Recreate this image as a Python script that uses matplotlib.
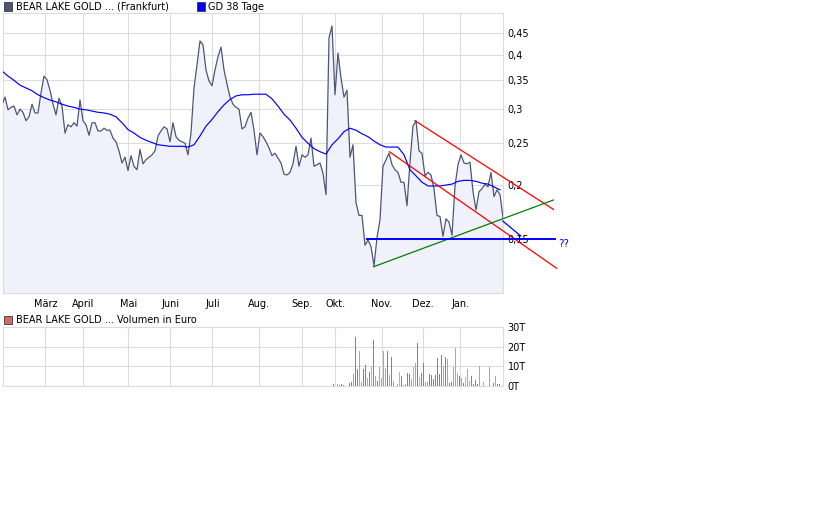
import numpy as np
import matplotlib

matplotlib.use("Agg")
import matplotlib.pyplot as plt
from matplotlib.patches import Rectangle

# x axis in trading days (one day = 2 px of the original chart)
month_labels = ["März", "April", "Mai", "Juni", "Juli", "Aug.", "Sep.", "Okt.", "Nov.", "Dez.", "Jan."]
month_days = [21.2, 40.2, 62.7, 83.7, 104.7, 128.2, 149.4, 166.2, 189.4, 209.9, 228.7]

price_ticks = [0.15, 0.2, 0.25, 0.3, 0.35, 0.4, 0.45]
price_tick_labels = ["0,15", "0,2", "0,25", "0,3", "0,35", "0,4", "0,45"]

# close prices (Frankfurt), one value every 1.5 trading days
price_start = -0.5
price_step = 1.5
price = [
    0.307, 0.320, 0.299, 0.303, 0.305, 0.291, 0.300, 0.295, 0.282, 0.288,
    0.308, 0.294, 0.294, 0.327, 0.358, 0.351, 0.332, 0.308, 0.291, 0.318,
    0.305, 0.264, 0.276, 0.273, 0.279, 0.274, 0.315, 0.282, 0.276, 0.261,
    0.279, 0.279, 0.267, 0.267, 0.271, 0.268, 0.268, 0.257, 0.252, 0.240,
    0.225, 0.232, 0.216, 0.234, 0.221, 0.217, 0.242, 0.224, 0.229, 0.232,
    0.235, 0.240, 0.260, 0.267, 0.273, 0.270, 0.252, 0.279, 0.259, 0.254,
    0.252, 0.250, 0.235, 0.264, 0.336, 0.380, 0.432, 0.423, 0.370, 0.349,
    0.340, 0.370, 0.397, 0.418, 0.370, 0.343, 0.320, 0.308, 0.303, 0.300,
    0.270, 0.273, 0.286, 0.295, 0.268, 0.235, 0.264, 0.259, 0.252, 0.244,
    0.234, 0.237, 0.231, 0.225, 0.212, 0.211, 0.214, 0.224, 0.246, 0.221,
    0.235, 0.232, 0.235, 0.257, 0.221, 0.223, 0.225, 0.213, 0.190, 0.439,
    0.468, 0.324, 0.405, 0.354, 0.320, 0.332, 0.232, 0.248, 0.182, 0.170,
    0.170, 0.145, 0.149, 0.144, 0.130, 0.151, 0.166, 0.221, 0.229, 0.237,
    0.223, 0.217, 0.214, 0.203, 0.203, 0.179, 0.226, 0.274, 0.282, 0.240,
    0.237, 0.210, 0.214, 0.211, 0.196, 0.170, 0.169, 0.152, 0.167, 0.164,
    0.153, 0.199, 0.223, 0.235, 0.225, 0.224, 0.226, 0.193, 0.175, 0.193,
    0.196, 0.201, 0.198, 0.214, 0.188, 0.195, 0.190, 0.168,
]

# GD 38 Tage, read at every second price sample
gd38 = [
    0.368, 0.358, 0.350, 0.341, 0.336, 0.331, 0.324, 0.319, 0.315, 0.312,
    0.308, 0.305, 0.303, 0.300, 0.299, 0.297, 0.295, 0.294, 0.292, 0.288,
    0.279, 0.269, 0.264, 0.258, 0.254, 0.251, 0.248, 0.247, 0.246, 0.246,
    0.246, 0.245, 0.248, 0.260, 0.274, 0.284, 0.296, 0.307, 0.316, 0.322,
    0.324, 0.324, 0.325, 0.325, 0.325, 0.317, 0.305, 0.292, 0.283, 0.271,
    0.258, 0.250, 0.243, 0.239, 0.236, 0.248, 0.256, 0.266, 0.271, 0.268,
    0.263, 0.259, 0.253, 0.248, 0.245, 0.245, 0.245, 0.235, 0.217, 0.210,
    0.203, 0.199, 0.199, 0.199, 0.200, 0.201, 0.204, 0.205, 0.205, 0.204,
    0.202, 0.201, 0.198, 0.195,
]

# volume in euro, consecutive trading days from vol_start
vol_start = 165
volume = [
    1000, 0, 850, 500, 1000, 500, 0, 0, 1500, 2000,
    5900, 24900, 8600, 17800, 2000, 8600, 10700, 4100, 7100, 10200,
    23400, 5100, 2500, 9700, 4100, 17800, 9200, 17800, 5600, 14700,
    2500, 0, 1000, 7100, 5100, 500, 1000, 6600, 6100, 3600,
    9700, 11700, 21900, 4600, 6600, 11700, 2000, 2000, 6100, 5600,
    3600, 5600, 14200, 6100, 15800, 10200, 14700, 13700, 1500, 2000,
    9700, 19300, 6600, 5100, 4100, 1500, 4600, 8600, 2500, 5100,
    1000, 3100, 1000, 10200, 0, 2000, 0, 0, 9700, 0,
    1500, 5100, 1000, 1000,
]
# r = down day, g = up day, n = unchanged
vol_trend = list(
    "rngrrrnnrr" "grrggrrgrn" "rgrggggrgr" "gngnrngrrg" "ngrnrrggrr"
    "rrrrrgrgrr" "gggrgrngnr" "rrrgngnngn" "rgrr"
)
vol_ticks = [0, 10000, 20000, 30000]
vol_tick_labels = ["0T", "10T", "20T", "30T"]

# hand-drawn trend lines: (day, price) end points
red_upper = ([206.0, 275.2], [0.282, 0.1756])
red_lower = ([193.2, 276.9], [0.2389, 0.1281])
green_support = ([185.2, 275.2], [0.1292, 0.1846])
blue_level = ([182.2, 276.0], [0.15, 0.15])
blue_proj = ([249.9, 258.9], [0.165, 0.1523])
qq_pos = (277.5, 0.146)

GRID = "#dcdcdc"
PRICE_COL = "#4d5677"
FILL_COL = "#f1f1fb"
VOL_COLS = {"r": "#dc5f5f", "g": "#62d862", "n": "#b4b4b4"}
FS = 7

W, H = 840, 525
fig = plt.figure(figsize=(W / 100, H / 100), dpi=100)
fig.patch.set_facecolor("white")


def px_axes(x0, y0, x1, y1):
    return fig.add_axes([x0 / W, 1 - y1 / H, (x1 - x0) / W, (y1 - y0) / H])


x_lim = (0, 250.15)

# --- price panel ---------------------------------------------------------
ax = px_axes(3, 13, 503.3, 293)
days = price_start + price_step * np.arange(len(price))
ax.set_yscale("log")
ax.set_ylim(0.1123, 0.5016)
ax.set_xlim(*x_lim)
ax.fill_between(days, price, 0.05, color=FILL_COL, lw=0, zorder=1)
ax.plot(days, price, color=PRICE_COL, lw=0.9, zorder=3)
ax.plot(days[::2], gd38, color="#0000ff", lw=0.85, zorder=3)

for xs, ys, col, lw in [
    (*red_upper, "#ff0000", 0.9),
    (*red_lower, "#ff0000", 0.9),
    (*green_support, "#008000", 0.9),
    (*blue_level, "#0000ff", 1.4),
    (*blue_proj, "#0000ff", 0.9),
]:
    ax.plot(xs, ys, color=col, lw=lw, clip_on=False, zorder=6)
ax.text(*qq_pos, "??", color="#0000ff", fontsize=7.5, va="center", ha="left", clip_on=False, zorder=6)

ax.yaxis.tick_right()
ax.set_yticks(price_ticks)
ax.set_yticklabels(price_tick_labels)
ax.yaxis.set_minor_locator(plt.NullLocator())
ax.set_xticks(month_days)
ax.set_xticklabels(month_labels)
ax.tick_params(axis="both", length=0, labelsize=FS, colors="black")
ax.tick_params(axis="y", pad=3)
ax.tick_params(axis="x", pad=4)
ax.grid(True, color=GRID, lw=0.8, zorder=0)
ax.set_axisbelow(True)
for s in ax.spines.values():
    s.set_color(GRID)
    s.set_linewidth(0.8)

# --- volume panel --------------------------------------------------------
axv = px_axes(3, 327, 503.3, 386)
vdays = vol_start + np.arange(len(volume))
# half-day wide bars starting on the day edge -> one crisp pixel column each
axv.bar(vdays, volume, width=0.5, align="edge", color=[VOL_COLS[t] for t in vol_trend],
        lw=0, zorder=3)
axv.set_xlim(*x_lim)
axv.set_ylim(0, 30000)
axv.yaxis.tick_right()
axv.set_yticks(vol_ticks)
axv.set_yticklabels(vol_tick_labels)
axv.set_xticks(month_days)
axv.set_xticklabels([])
axv.tick_params(axis="both", length=0, labelsize=FS, colors="black")
axv.tick_params(axis="y", pad=3)
axv.grid(True, color=GRID, lw=0.8, zorder=0)
axv.set_axisbelow(True)
for s in axv.spines.values():
    s.set_color(GRID)
    s.set_linewidth(0.8)


# --- legends -------------------------------------------------------------
def legend_item(x, y, face, label):
    fig.add_artist(
        Rectangle((x / W, 1 - (y + 4) / H), 8 / W, 8 / H, transform=fig.transFigure,
                  facecolor=face, edgecolor="#3a3a3a", lw=0.6)
    )
    fig.text((x + 12) / W, 1 - y / H, label, fontsize=FS, va="center", ha="left")


legend_item(3.5, 6.5, PRICE_COL, "BEAR LAKE GOLD ... (Frankfurt)")
legend_item(196.5, 6.5, "#0000ff", "GD 38 Tage")
legend_item(3.5, 320, "#d96666", "BEAR LAKE GOLD ... Volumen in Euro")

fig.savefig("out.png", dpi=100)
